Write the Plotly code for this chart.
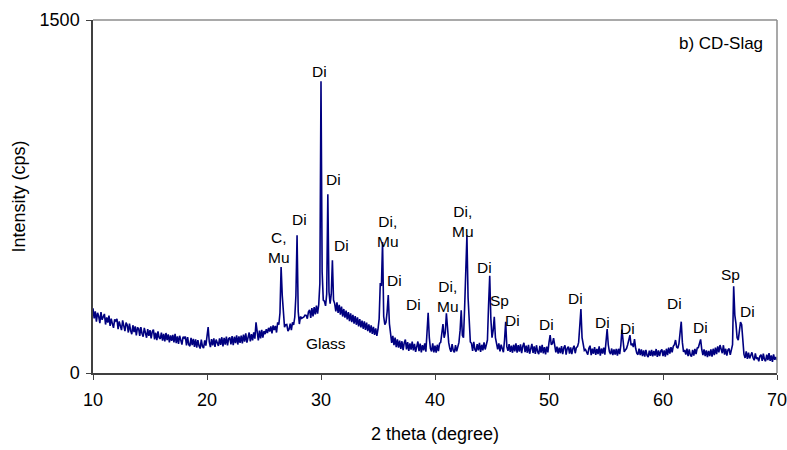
import numpy as np
import plotly.graph_objects as go

# XRD scan of CD-Slag, 2-theta from 10 to 70 deg in 0.1 deg steps
two_theta_start = 10.0
two_theta_step = 0.1
intensity = [
    # 10.x
    275, 232, 262, 218, 256, 241, 212, 259, 226, 238,
    # 11.x
    251, 206, 236, 214, 244, 200, 231, 209, 192, 228,
    # 12.x
    221, 230, 186, 219, 193, 182, 224, 190, 178, 214,
    # 13.x
    204, 172, 210, 180, 165, 203, 174, 198, 160, 192,
    # 14.x
    190, 158, 195, 168, 154, 192, 161, 150, 186, 158,
    # 15.x
    182, 147, 176, 184, 143, 171, 140, 177, 150, 145,
    # 16.x
    172, 138, 166, 134, 170, 140, 164, 130, 160, 137,
    # 17.x
    162, 130, 166, 127, 156, 124, 158, 133, 121, 154,
    # 18.x
    148, 155, 117, 152, 120, 114, 149, 118, 145, 111,
    # 19.x
    143, 108, 140, 115, 104, 142, 113, 106, 139, 116,
    # 20.x
    152, 195, 132, 110, 144, 117, 147, 111, 142, 131,
    # 21.x
    115, 147, 120, 152, 113, 149, 121, 155, 117, 146,
    # 22.x
    151, 122, 157, 118, 154, 127, 160, 121, 156, 128,
    # 23.x
    159, 126, 163, 133, 168, 129, 161, 172, 134, 165,
    # 24.x
    139, 173, 146, 215, 176, 138, 180, 147, 183, 150,
    # 25.x
    178, 165, 186, 170, 192, 176, 198, 168, 202, 183,
    # 26.x
    200, 172, 215, 205, 255, 450, 330, 235, 195, 205,
    # 27.x
    206, 178, 186, 210, 182, 215, 204, 238, 330, 585,
    # 28.x
    262, 208, 240, 232, 235, 238, 246, 245, 231, 260,
    # 29.x
    268, 234, 276, 241, 280, 249, 286, 252, 290, 380,
    # 30.x
    1240, 430, 310, 305, 285, 335, 760, 345, 295, 335,
    # 31.x
    479, 310, 295, 262, 300, 255, 290, 248, 282, 240,
    # 32.x
    272, 235, 265, 228, 259, 220, 253, 216, 247, 210,
    # 33.x
    242, 205, 236, 198, 229, 194, 223, 188, 219, 183,
    # 34.x
    214, 178, 207, 172, 202, 166, 196, 162, 190, 158,
    # 35.x
    186, 230, 382, 370, 557, 240, 205, 215, 260, 331,
    # 36.x
    210, 165, 128, 158, 118, 150, 110, 143, 108, 138,
    # 37.x
    102, 135, 97, 128, 142, 100, 131, 94, 126, 99,
    # 38.x
    133, 96, 124, 90, 121, 134, 93, 125, 88, 118,
    # 39.x
    96, 126, 91, 160, 256, 150, 104, 92, 126, 88,
    # 40.x
    116, 87, 120, 93, 126, 130, 160, 208, 150, 170,
    # 41.x
    254, 170, 130, 104, 90, 123, 96, 88, 118, 92,
    # 42.x
    120, 130, 180, 267, 160, 150, 280, 430, 585, 322,
    # 43.x
    220, 132, 126, 94, 132, 100, 91, 123, 96, 128,
    # 44.x
    90, 120, 96, 130, 100, 126, 140, 290, 413, 230,
    # 45.x
    150, 180, 239, 150, 117, 100, 126, 92, 120, 96,
    # 46.x
    88, 140, 218, 112, 94, 123, 90, 116, 86, 120,
    # 47.x
    92, 126, 87, 118, 91, 122, 84, 114, 128, 89,
    # 48.x
    116, 86, 120, 82, 111, 124, 85, 113, 81, 118,
    # 49.x
    90, 80, 115, 87, 120, 83, 110, 79, 112, 88,
    # 50.x
    130, 161, 120, 125, 148, 110, 88, 112, 82, 108,
    # 51.x
    84, 114, 80, 107, 118, 78, 105, 112, 82, 109,
    # 52.x
    80, 104, 116, 84, 108, 112, 130, 200, 272, 150,
    # 53.x
    118, 96, 100, 92, 78, 105, 116, 76, 103, 82,
    # 54.x
    110, 77, 102, 80, 113, 74, 104, 82, 108, 78,
    # 55.x
    130, 187, 120, 90, 80, 104, 76, 100, 78, 102,
    # 56.x
    74, 103, 80, 118, 185, 120, 90, 98, 104, 120,
    # 57.x
    140, 161, 118, 125, 110, 144, 105, 84, 78, 104,
    # 58.x
    76, 100, 72, 96, 70, 98, 75, 68, 95, 73,
    # 59.x
    98, 71, 94, 74, 102, 69, 96, 72, 93, 100,
    # 60.x
    72, 96, 70, 103, 76, 108, 82, 110, 88, 113,
    # 61.x
    120, 140, 110, 105, 125, 160, 218, 130, 90, 98,
    # 62.x
    78, 104, 72, 100, 76, 70, 98, 74, 102, 80,
    # 63.x
    106, 108, 130, 143, 100, 76, 100, 72, 96, 68,
    # 64.x
    94, 72, 100, 70, 103, 76, 108, 80, 113, 88,
    # 65.x
    119, 100, 84, 118, 78, 103, 74, 98, 104, 77,
    # 66.x
    96, 120, 369, 246, 210, 150, 140, 190, 216, 205,
    # 67.x
    130, 80, 64, 92, 60, 86, 62, 73, 88, 65,
    # 68.x
    54, 83, 60, 66, 50, 72, 78, 52, 82, 58,
    # 69.x
    50, 78, 55, 84, 52, 75, 47, 79, 56, 68,
    # 70.0
    54,
]
two_theta = two_theta_start + two_theta_step * np.arange(len(intensity))

# Phase labels: (2-theta, intensity, text)
label_x = [29.89, 31.12, 31.79, 28.13, 26.29, 35.88, 36.47, 38.14, 41.12, 42.44,
           44.34, 45.69, 46.80, 49.82, 52.36, 54.73, 56.90, 61.05, 63.33, 65.88,
           67.44, 30.41]
label_y = [1281, 823, 540, 653, 535, 602, 395, 293, 325, 645,
           450, 310, 225, 204, 318, 216, 187, 297, 195, 420,
           260, 127]
label_text = ["Di", "Di", "Di", "Di", "C,<br>Mu", "Di,<br>Mu", "Di", "Di", "Di,<br>Mu", "Di,<br>Mu",
              "Di", "Sp", "Di", "Di", "Di", "Di", "Di", "Di", "Di", "Sp",
              "Di", "Glass"]

x_ticks = [10, 20, 30, 40, 50, 60, 70]
y_ticks = [0, 1500]

FONT = "Liberation Sans, Arial, sans-serif"

fig = go.Figure()
fig.add_trace(go.Scatter(
    x=two_theta, y=intensity, mode="lines",
    line=dict(color="#000080", width=1.6),
    hoverinfo="skip", showlegend=False,
))

for tx, ty, tt in zip(label_x, label_y, label_text):
    fig.add_annotation(x=tx, y=ty, text=tt, showarrow=False,
                       font=dict(family=FONT, size=15.5, color="#000000"),
                       xanchor="center", yanchor="middle")

fig.add_annotation(x=0.983, y=0.933, xref="paper", yref="paper",
                   text="b) CD-Slag", showarrow=False,
                   font=dict(family=FONT, size=17, color="#000000"),
                   xanchor="right", yanchor="middle")

# light frame on top and right
fig.add_shape(type="line", xref="paper", yref="paper", x0=0, x1=1, y0=1, y1=1,
              line=dict(color="#8c8c8c", width=1.5))
fig.add_shape(type="line", xref="paper", yref="paper", x0=1, x1=1, y0=0, y1=1,
              line=dict(color="#8c8c8c", width=1.5))

fig.update_layout(
    width=787, height=450,
    margin=dict(l=93, r=10, t=20, b=77),
    paper_bgcolor="white", plot_bgcolor="white",
    font=dict(family=FONT, size=18, color="#000000"),
    xaxis=dict(
        range=[10, 70], tickvals=x_ticks, ticks="outside", ticklen=5,
        tickcolor="#404040", showline=True, linecolor="#404040", linewidth=1.5,
        showgrid=False, zeroline=False, automargin=False, ticklabelstandoff=5,
        ticklabeloverflow="allow",
        title=dict(text="2 theta (degree)", font=dict(family=FONT, size=18), standoff=18),
        tickfont=dict(family=FONT, size=18),
    ),
    yaxis=dict(
        range=[0, 1500], tickvals=y_ticks, ticks="outside", ticklen=5,
        tickcolor="#404040", showline=True, linecolor="#404040", linewidth=1.5,
        showgrid=False, zeroline=False, automargin=False, ticklabelstandoff=3,
        ticklabeloverflow="allow",
        title=dict(text="Intensity (cps)", font=dict(family=FONT, size=18), standoff=9),
        tickfont=dict(family=FONT, size=18),
    ),
)

fig.write_html("out.html")
